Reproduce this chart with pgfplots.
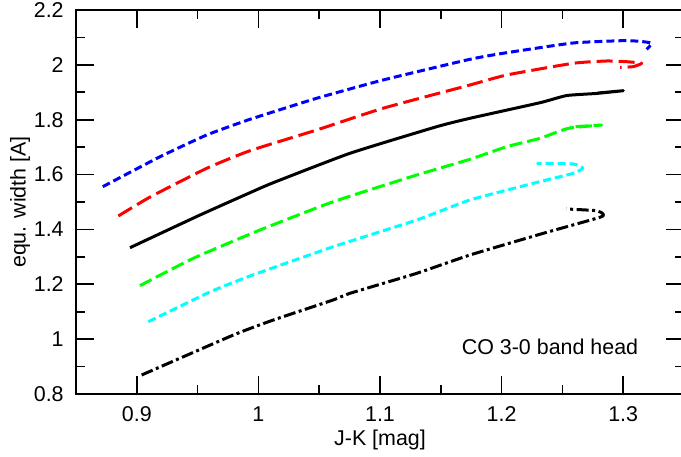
\documentclass[border=0pt]{standalone}
\usepackage{fontspec}
\setmainfont{Liberation Sans}
\usepackage{pgfplots}
\pgfplotsset{compat=1.18}
\begin{document}
\fontsize{21.5}{25}\selectfont
\begin{tikzpicture}
\begin{axis}[
  scale only axis, width=608bp, height=384bp,
  at={(0,0)}, anchor=south west,
  xmin=0.85, xmax=1.35, ymin=0.8, ymax=2.2,
  xtick={0.9,1,1.1,1.2,1.3},
  ytick={0.8,1,1.2,1.4,1.6,1.8,2,2.2},
  minor x tick num=1, minor y tick num=1,
  tick align=inside,
  major tick length=18bp, minor tick length=9bp,
  every tick/.style={line width=1.6bp, black},
  axis line style={line width=2bp},
  /pgf/number format/assume math mode=true,
  ticklabel style={font=\fontsize{21.5}{25}\selectfont},
  yticklabel style={xshift=-5bp},
  xticklabel style={yshift=-5bp},
  label style={font=\fontsize{21.5}{25}\selectfont},
  xlabel={J-K [mag]},
  ylabel={equ. width [A]},
  xlabel style={at={(axis description cs:0.5,-0.1198)}, anchor=center},
  ylabel style={at={(axis description cs:-0.0921,0.5)}, anchor=center},
  clip=false,
  every axis plot/.append style={line width=3bp, line cap=butt, line join=round, mark=none, smooth, tension=0.3},
]
% blue
\addplot[color={rgb,255:red,0;green,0;blue,255}, dash pattern=on 8bp off 4bp] coordinates {
(0.8720,1.5558) (0.9191,1.6650) (0.9575,1.7443) (0.9931,1.8015) (1.0479,1.8781)
(1.1027,1.9450) (1.1740,2.0203) (1.2042,2.0443) (1.2587,2.0797) (1.2988,2.0881)
(1.3138,2.0859) (1.3234,2.0786) (1.3193,2.0567)
};
% red
\addplot[color={rgb,255:red,255;green,0;blue,0}, dash pattern=on 16bp off 6bp] coordinates {
(0.8848,1.4490) (0.9109,1.5180) (0.9575,1.6229) (0.9931,1.6870) (1.0479,1.7625)
(1.1027,1.8420) (1.1740,1.9266) (1.2042,1.9630) (1.2587,2.0057) (1.2864,2.0141)
(1.3029,2.0115) (1.3152,2.0057) (1.3081,1.9933) (1.2974,1.9911)
};
% black solid
\addplot[color=black] coordinates {
(0.8944,1.3334) (0.9520,1.4526) (0.9931,1.5339) (1.0120,1.5700) (1.0753,1.6776)
(1.1466,1.7745) (1.1740,1.8052) (1.2316,1.8620) (1.2535,1.8881) (1.2782,1.8958)
(1.3001,1.9058) (1.2793,1.8974)
};
% green
\addplot[color={rgb,255:red,0;green,255;blue,0}, dash pattern=on 13bp off 5bp] coordinates {
(0.9026,1.1949) (0.9465,1.2948) (1.0013,1.3979) (1.0616,1.5011) (1.1302,1.5984)
(1.1740,1.6557) (1.2042,1.7016) (1.2316,1.7322) (1.2549,1.7687) (1.2823,1.7807)
(1.2562,1.7734)
};
% cyan
\addplot[color={rgb,255:red,0;green,255;blue,255}, dash pattern=on 8bp off 4bp] coordinates {
(0.9095,1.0636) (0.9602,1.1720) (0.9931,1.2302) (1.0616,1.3370) (1.1302,1.4344)
(1.1740,1.5073) (1.2261,1.5682) (1.2590,1.6046) (1.2667,1.6229) (1.2590,1.6386)
(1.2289,1.6411)
};
% black dash-dot
\addplot[color=black, dash pattern=on 12bp off 3.5bp on 3bp off 3.5bp] coordinates {
(0.9040,0.8693) (0.9794,1.0150) (1.0123,1.0698) (1.0614,1.1427) (1.0753,1.1671)
(1.1302,1.2400) (1.1740,1.3068) (1.2343,1.3859) (1.2809,1.4442) (1.2834,1.4563)
(1.2782,1.4683) (1.2535,1.4745)
};
\node[font=\fontsize{21.5}{25}\selectfont] at (axis cs:1.2398,0.9725) {CO 3-0 band head};
\end{axis}
\pgfresetboundingbox
\path[use as bounding box] (-76bp,-63bp) rectangle (605bp,394bp);
\end{tikzpicture}
\end{document}
